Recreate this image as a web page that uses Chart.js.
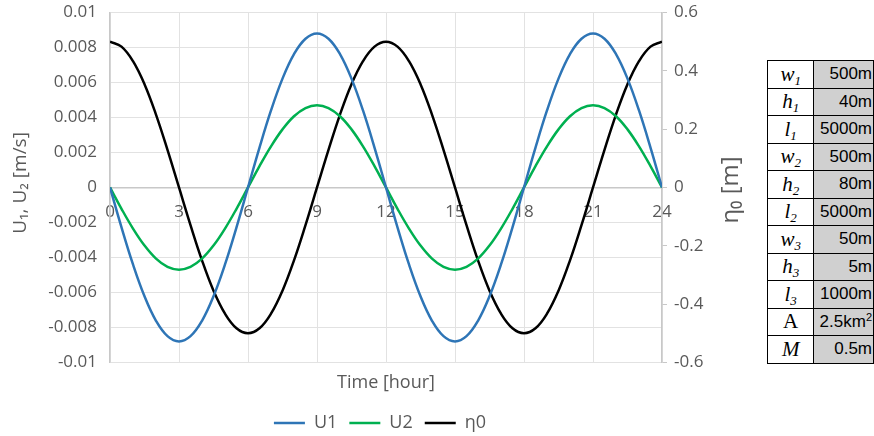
<!DOCTYPE html>
<html lang="en">
<head>
    <meta charset="UTF-8">
    <title>U1, U2, η0</title>
    <script src="https://cdn.jsdelivr.net/npm/chart.js"></script>
    <style>
        body { margin: 0; background: #fff; }
        #wrap { position: relative; width: 874px; height: 436px; }
        #box { position: absolute; left: 0; top: 0; width: 760px; height: 436px; }
        #params {
            position: absolute; left: 767px; top: 60px;
            border-collapse: collapse; table-layout: fixed;
        }
        #params td { border: 1px solid #000; height: 27.5px; padding: 0; box-sizing: border-box; }
        #params td.sym {
            width: 48px; text-align: center; background: #fff;
            font-family: "Liberation Serif", "DejaVu Serif", serif; font-size: 21px;
        }
        #params td.val {
            width: 60px; text-align: right; background: #d0d0d0; padding-right: 1px;
            font-family: "Liberation Sans", Arial, sans-serif; font-size: 17px;
        }
        #params sub { font-size: 13px; vertical-align: -4px; line-height: 0; }
        #params sup { font-size: 11px; vertical-align: 6px; line-height: 0; }
    </style>
</head>
<body>
<div id="wrap">
    <div id="box"><canvas id="myChart"></canvas></div>
    <table id="params">
        <tr><td class="sym"><i>w</i><sub><i>1</i></sub></td><td class="val">500m</td></tr>
        <tr><td class="sym"><i>h</i><sub><i>1</i></sub></td><td class="val">40m</td></tr>
        <tr><td class="sym"><i>l</i><sub><i>1</i></sub></td><td class="val">5000m</td></tr>
        <tr><td class="sym"><i>w</i><sub><i>2</i></sub></td><td class="val">500m</td></tr>
        <tr><td class="sym"><i>h</i><sub><i>2</i></sub></td><td class="val">80m</td></tr>
        <tr><td class="sym"><i>l</i><sub><i>2</i></sub></td><td class="val">5000m</td></tr>
        <tr><td class="sym"><i>w</i><sub><i>3</i></sub></td><td class="val">50m</td></tr>
        <tr><td class="sym"><i>h</i><sub><i>3</i></sub></td><td class="val">5m</td></tr>
        <tr><td class="sym"><i>l</i><sub><i>3</i></sub></td><td class="val">1000m</td></tr>
        <tr><td class="sym">A</td><td class="val">2.5km<sup>2</sup></td></tr>
        <tr><td class="sym"><i>M</i></td><td class="val">0.5m</td></tr>
    </table>
</div>
<script>
    // time axis, every half hour
    const hours = [0, 0.5, 1, 1.5, 2, 2.5, 3, 3.5, 4, 4.5, 5, 5.5, 6, 6.5, 7, 7.5, 8, 8.5, 9, 9.5,
        10, 10.5, 11, 11.5, 12, 12.5, 13, 13.5, 14, 14.5, 15, 15.5, 16, 16.5, 17, 17.5, 18, 18.5,
        19, 19.5, 20, 20.5, 21, 21.5, 22, 22.5, 23, 23.5, 24];

    // velocity in channel 1 [m/s]
    const u1 = [0, -0.00228, -0.0044, -0.00622, -0.00762, -0.0085, -0.0088, -0.0085, -0.00762, -0.00622, -0.0044, -0.00228, 0,
        0.00228, 0.0044, 0.00622, 0.00762, 0.0085, 0.0088, 0.0085, 0.00762, 0.00622, 0.0044, 0.00228, 0,
        -0.00228, -0.0044, -0.00622, -0.00762, -0.0085, -0.0088, -0.0085, -0.00762, -0.00622, -0.0044, -0.00228, 0,
        0.00228, 0.0044, 0.00622, 0.00762, 0.0085, 0.0088, 0.0085, 0.00762, 0.00622, 0.0044, 0.00228, 0];

    // velocity in channel 2 [m/s]
    const u2 = [0, -0.00122, -0.00235, -0.00332, -0.00407, -0.00454, -0.0047, -0.00454, -0.00407, -0.00332, -0.00235, -0.00122, 0,
        0.00122, 0.00235, 0.00332, 0.00407, 0.00454, 0.0047, 0.00454, 0.00407, 0.00332, 0.00235, 0.00122, 0,
        -0.00122, -0.00235, -0.00332, -0.00407, -0.00454, -0.0047, -0.00454, -0.00407, -0.00332, -0.00235, -0.00122, 0,
        0.00122, 0.00235, 0.00332, 0.00407, 0.00454, 0.0047, 0.00454, 0.00407, 0.00332, 0.00235, 0.00122, 0];

    // tide level at the mouth [m]
    const eta0 = [0.5, 0.483, 0.433, 0.354, 0.25, 0.129, 0, -0.129, -0.25, -0.354, -0.433, -0.483, -0.5,
        -0.483, -0.433, -0.354, -0.25, -0.129, 0, 0.129, 0.25, 0.354, 0.433, 0.483, 0.5,
        0.483, 0.433, 0.354, 0.25, 0.129, 0, -0.129, -0.25, -0.354, -0.433, -0.483, -0.5,
        -0.483, -0.433, -0.354, -0.25, -0.129, 0, 0.129, 0.25, 0.354, 0.433, 0.483, 0.5];

    const toPoints = (vals) => hours.map((h, i) => ({ x: h, y: vals[i] }));
    const fmt = (v) => String(Number(v.toFixed(4)));

    const gray = '#595959';
    const font = "'Open Sans', sans-serif";

    // y axis titles, both reading bottom to top
    const sideTitles = {
        id: 'sideTitles',
        afterDraw(chart) {
            const c = chart.ctx;
            c.save();
            c.fillStyle = gray;
            c.textAlign = 'center';
            c.textBaseline = 'middle';
            c.font = '19px ' + font;
            c.translate(21, 183);
            c.rotate(-Math.PI / 2);
            c.fillText('U\u2081, U\u2082 [m/s]', 0, 0);
            c.restore();
            c.save();
            c.fillStyle = gray;
            c.textAlign = 'center';
            c.textBaseline = 'middle';
            c.font = '24px ' + font;
            c.translate(731, 190);
            c.rotate(-Math.PI / 2);
            c.fillText('\u03b7\u2080 [m]', 0, 0);
            c.restore();
        }
    };

    // vertical axes: fixed widths and plot edges
    const fitLeft = (s) => { s.width = 110; s.paddingTop = 12.5; s.paddingBottom = 0; };
    const fitRight = (s) => { s.width = 98; s.paddingTop = 12.5; s.paddingBottom = 0; };

    const ctx = document.getElementById('myChart').getContext('2d');
    const myChart = new Chart(ctx, {
        type: 'line',
        data: {
            datasets: [{
                label: 'U1',
                data: toPoints(u1),
                borderColor: '#2e75b6',
                borderWidth: 2.5,
                yAxisID: 'y'
            }, {
                label: 'U2',
                data: toPoints(u2),
                borderColor: '#00b050',
                borderWidth: 2.5,
                yAxisID: 'y'
            }, {
                label: 'η0',
                data: toPoints(eta0),
                borderColor: '#000000',
                borderWidth: 2.5,
                yAxisID: 'y2'
            }]
        },
        options: {
            responsive: true,
            maintainAspectRatio: false,
            animation: false,
            elements: {
                point: { radius: 0 },
                line: { tension: 0.4, fill: false }
            },
            layout: { padding: { top: 0, bottom: -6 } },
            plugins: {
                legend: {
                    position: 'bottom',
                    labels: {
                        color: gray,
                        font: { family: font, size: 18 },
                        usePointStyle: true,
                        pointStyle: 'line',
                        pointStyleWidth: 31,
                        padding: 12
                    }
                },
                tooltip: { enabled: false }
            },
            scales: {
                x: {
                    type: 'linear',
                    position: { y: 0 },
                    min: 0,
                    max: 24,
                    ticks: { stepSize: 3, color: gray, font: { family: font, size: 17 }, padding: 15 },
                    grid: { color: '#e2e2e2', drawTicks: false },
                    border: { color: '#c8c8c8', width: 1.5 }
                },
                xt: {
                    type: 'linear',
                    position: 'bottom',
                    min: 0,
                    max: 24,
                    ticks: { display: false },
                    grid: { display: false },
                    border: { display: false },
                    title: {
                        display: true,
                        text: 'Time [hour]',
                        color: gray,
                        font: { family: font, size: 18 },
                        padding: { top: 2, bottom: 8 }
                    }
                },
                y: {
                    position: 'left',
                    min: -0.01,
                    max: 0.01,
                    ticks: { stepSize: 0.002, color: gray, font: { family: font, size: 17 }, padding: 13, callback: fmt },
                    grid: { color: '#e2e2e2', drawTicks: false },
                    border: { color: '#c8c8c8', width: 1.5 },
                    afterFit: fitLeft
                },
                y2: {
                    position: 'right',
                    min: -0.6,
                    max: 0.6,
                    ticks: { stepSize: 0.2, color: gray, font: { family: font, size: 17 }, padding: 7, callback: fmt },
                    grid: { drawOnChartArea: false, color: '#c8c8c8', tickLength: 5 },
                    border: { color: '#c8c8c8', width: 1.5 },
                    afterFit: fitRight
                }
            }
        },
        plugins: [sideTitles]
    });
</script>
</body>
</html>
